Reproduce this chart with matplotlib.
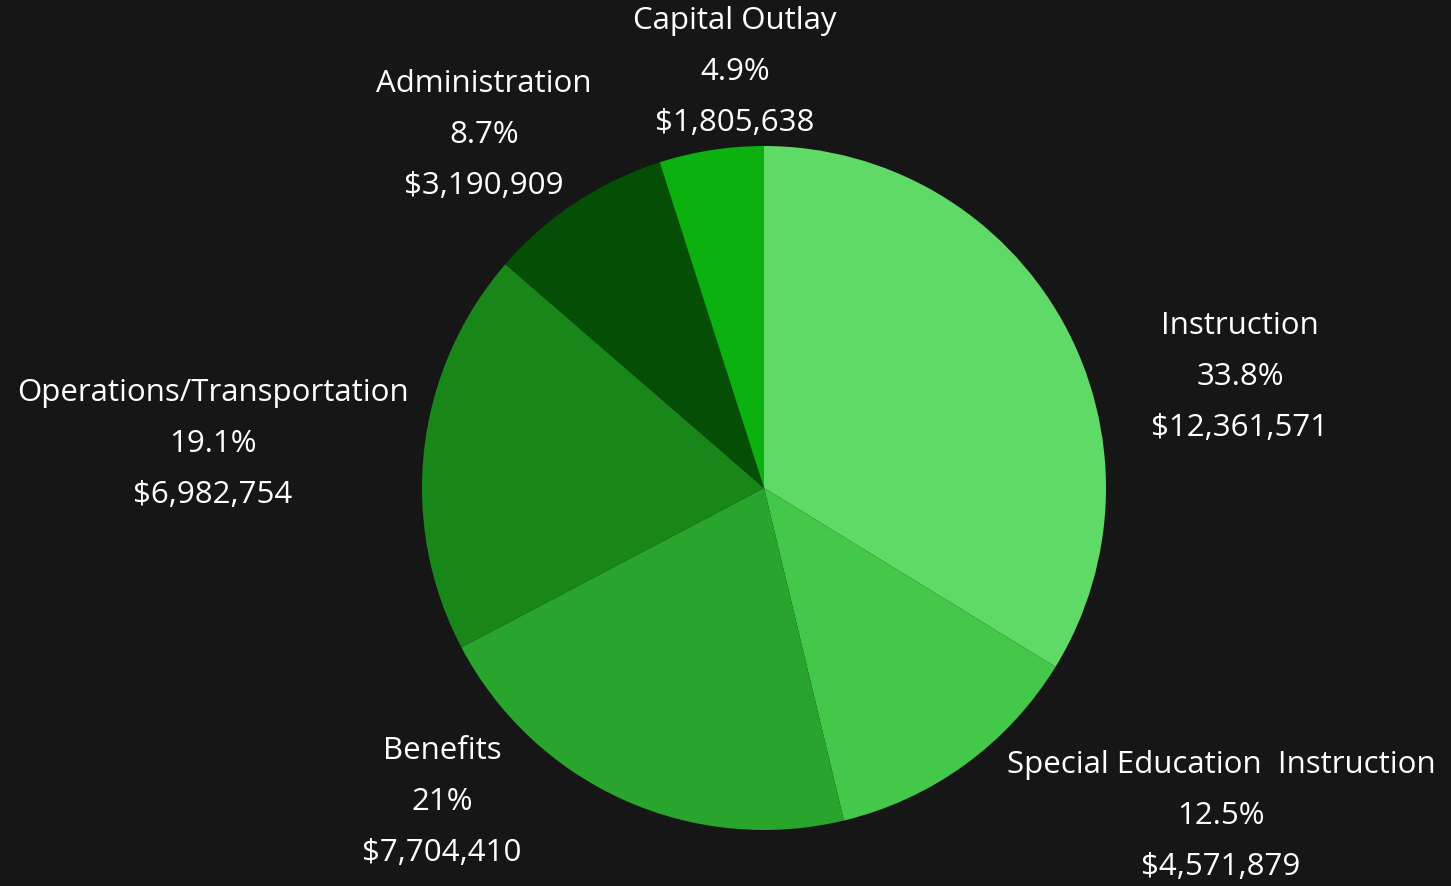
import matplotlib.pyplot as plt

# Budget data
categories = ['Instruction', 'Special Education  Instruction', 'Benefits',
              'Operations/Transportation', 'Administration', 'Capital Outlay']
amounts = [12361571, 4571879, 7704410, 6982754, 3190909, 1805638]
colors = ['#5fda66', '#44c84a', '#29a52e', '#188618', '#044f05', '#0ab10f']

# label centres (pixels, from top-left) for each slice
label_pos = [(1240, 377), (1221, 816), (442, 802), (213, 444), (484, 135), (735, 72)]

W, H = 1451, 886
BG = '#161616'
plt.rcParams['font.family'] = ['Open Sans', 'DejaVu Sans']

fig = plt.figure(figsize=(W / 100, H / 100), dpi=100, facecolor=BG)
ax = fig.add_axes([0, 0, 1, 1])
ax.set_facecolor(BG)

ax.pie(amounts, colors=colors, startangle=90, counterclock=False,
       center=(764, H - 488), radius=342, frame=True,
       wedgeprops=dict(linewidth=0))
ax.set_xlim(0, W)
ax.set_ylim(0, H)
ax.set_aspect('equal')
ax.axis('off')

total = sum(amounts)
for name, amt, (x, y) in zip(categories, amounts, label_pos):
    pct = round(amt / total * 100, 1)
    txt = f"{name}\n{pct:g}%\n${amt:,}"
    ax.text(x, H - y, txt, ha='center', va='center', color='white',
            fontsize=22.5, linespacing=1.91)

fig.savefig('out.png', dpi=100, facecolor=BG)
